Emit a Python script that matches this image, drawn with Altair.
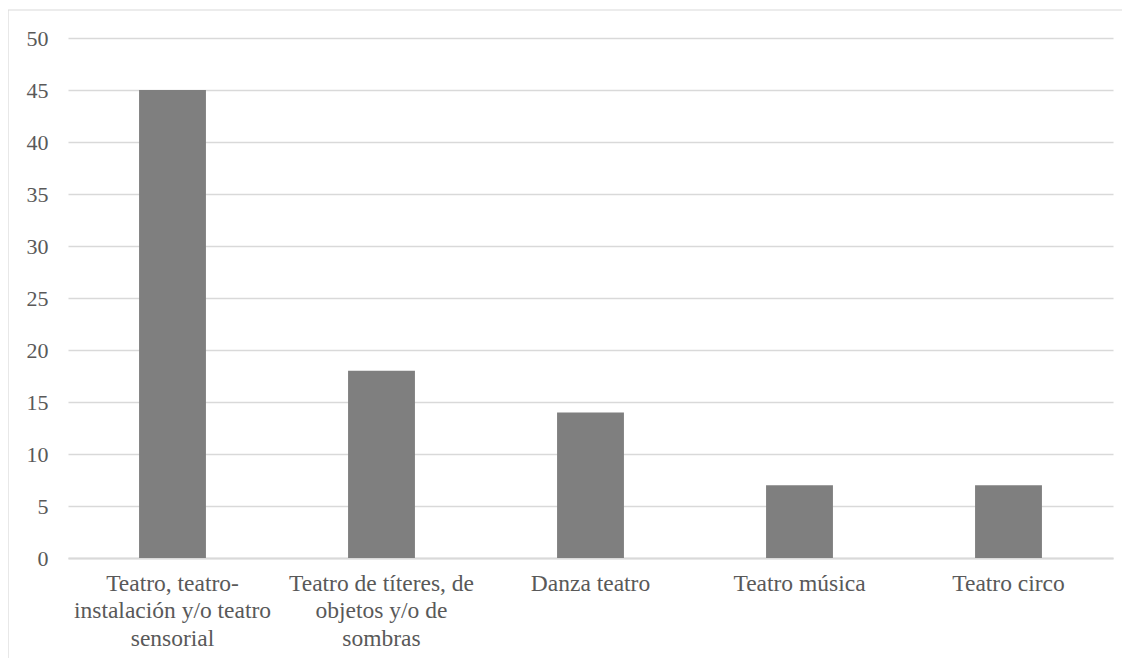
import altair as alt
import pandas as pd

categories = [
    "Teatro, teatro-\ninstalación y/o teatro\nsensorial",
    "Teatro de títeres, de\nobjetos y/o de\nsombras",
    "Danza teatro",
    "Teatro música",
    "Teatro circo",
]
values = [45, 18, 14, 7, 7]
y_ticks = [0, 5, 10, 15, 20, 25, 30, 35, 40, 45, 50]

df = pd.DataFrame({"cat": categories, "val": values})

FONT = "Liberation Serif, Times New Roman, serif"
TXT = "#595959"
GRID = "#d9d9d9"

bars = alt.Chart(df).mark_bar(color="#7f7f7f").encode(
    x=alt.X("cat:N", sort=categories, title=None,
            scale=alt.Scale(paddingInner=0.68, paddingOuter=0.34),
            axis=alt.Axis(labelAngle=0, labelExpr="split(datum.label, '\\n')",
                          labelFont=FONT, labelFontSize=23.5, labelColor=TXT,
                          labelLineHeight=27.5, labelBaseline="alphabetic",
                          labelPadding=32,
                          ticks=False, domainColor=GRID, domainWidth=2,
                          labelLimit=0, grid=False)),
    y=alt.Y("val:Q", title=None,
            scale=alt.Scale(domain=[0, 50], nice=False),
            axis=alt.Axis(values=y_ticks, labelFont=FONT, labelFontSize=22,
                          labelColor=TXT, labelPadding=20, ticks=False,
                          domain=False, gridColor=GRID, gridWidth=1.5)),
)

frame_df = pd.DataFrame({"k": [0]})
frame_v = alt.Chart(frame_df).mark_rule(color="#d9d9d9", strokeWidth=1.2, clip=False).encode(
    x=alt.value(-60), y=alt.value(-28), y2=alt.value(700))
frame_h = alt.Chart(frame_df).mark_rule(color="#d9d9d9", strokeWidth=1.2, clip=False).encode(
    x=alt.value(-60), x2=alt.value(1200), y=alt.value(-28))

chart = alt.layer(frame_v, frame_h, bars).properties(
    width=1045, height=520,
    padding={"left": 60, "top": 30, "right": 9, "bottom": 100},
    autosize=alt.AutoSizeParams(type="none"),
    background="white",
).configure_view(stroke=None)

chart.save("out.html", embed_options={"renderer": "svg", "actions": False})
